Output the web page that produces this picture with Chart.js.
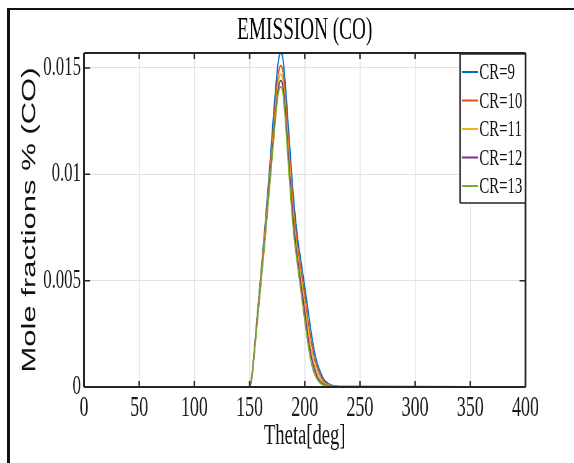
<!DOCTYPE html>
<html>
<head>
<meta charset="utf-8">
<title>EMISSION (CO)</title>
<script src="https://cdn.jsdelivr.net/npm/chart.js@4.4.1/dist/chart.umd.min.js"></script>
<style>
    html, body { margin: 0; padding: 0; background: #fff; overflow: hidden; }
    #frame {
        position: absolute; left: 7px; top: 8px; width: 580px; height: 470px;
        border-left: 3px solid #111; border-top: 2px solid #111;
    }
    /* the figure is laid out wide, then squeezed horizontally */
    #wrap {
        position: absolute; left: 0; top: 0; width: 926px; height: 463px;
        transform: scaleX(0.62); transform-origin: 0 0;
    }
</style>
</head>
<body>
<div id="frame"></div>
<div id="wrap"><canvas id="coChart" width="926" height="463"></canvas></div>
<script>
// crank angle (deg)
const thetaDeg = [0, 150, 152, 154, 156, 158, 160, 162, 164, 166, 168, 170, 172, 174, 176, 178, 180,
    182, 184, 186, 188, 190, 192, 194, 196, 198, 200, 203, 206, 209, 212, 215, 218, 222, 226, 232, 360];

// CO mole fraction for each compression ratio
const cr9 = [0, 0, 0.0005, 0.0016, 0.0028, 0.0040, 0.0052, 0.0064, 0.0076, 0.0089, 0.0102, 0.0116, 0.0130,
    0.0143, 0.0153, 0.0157, 0.0155, 0.0145, 0.0131, 0.0116, 0.0101, 0.0088, 0.0077, 0.0068, 0.0061, 0.0054,
    0.0047, 0.0036, 0.0025, 0.0016, 0.0010, 0.0006, 0.0003, 0.00013, 0.00005, 0.00001, 0];
const cr10 = [0, 0, 0.0005, 0.0015, 0.0027, 0.0039, 0.0051, 0.0062, 0.0074, 0.0086, 0.0099, 0.0112, 0.0125,
    0.0138, 0.0147, 0.0151, 0.0149, 0.0139, 0.0125, 0.0110, 0.0096, 0.0083, 0.0073, 0.0064, 0.0057, 0.0050,
    0.0043, 0.0031, 0.0021, 0.0013, 0.0008, 0.00045, 0.00022, 0.0001, 0.00004, 0.00001, 0];
const cr11 = [0, 0, 0.0005, 0.0015, 0.0026, 0.0038, 0.0050, 0.0061, 0.0072, 0.0084, 0.0097, 0.0109, 0.0121,
    0.0134, 0.0143, 0.0147, 0.0145, 0.0135, 0.0121, 0.0106, 0.0092, 0.0079, 0.0069, 0.0061, 0.0053, 0.0046,
    0.0039, 0.0027, 0.0017, 0.0010, 0.0006, 0.0003, 0.00015, 0.00007, 0.00003, 0.00001, 0];
const cr12 = [0, 0, 0.0004, 0.0014, 0.0026, 0.0037, 0.0048, 0.0059, 0.0070, 0.0082, 0.0095, 0.0107, 0.0119,
    0.0131, 0.0140, 0.0144, 0.0142, 0.0132, 0.0117, 0.0102, 0.0088, 0.0076, 0.0066, 0.0058, 0.0050, 0.0043,
    0.0035, 0.0023, 0.0014, 0.0008, 0.0004, 0.0002, 0.0001, 0.00005, 0.00002, 0, 0];
const cr13 = [0, 0, 0.0004, 0.0014, 0.0025, 0.0036, 0.0047, 0.0058, 0.0069, 0.0081, 0.0093, 0.0105, 0.0117,
    0.0129, 0.0138, 0.0141, 0.0139, 0.0128, 0.0113, 0.0098, 0.0084, 0.0072, 0.0063, 0.0055, 0.0047, 0.0039,
    0.0031, 0.0020, 0.0011, 0.0006, 0.0003, 0.00015, 0.00008, 0.00003, 0.00001, 0, 0];

const seriesNames = ["CR=9", "CR=10", "CR=11", "CR=12", "CR=13"];
const seriesColors = ["#0072BD", "#D95319", "#EDB120", "#7E2F8E", "#77AC30"];
const seriesValues = [cr9, cr10, cr11, cr12, cr13];

const xTicks = [0, 50, 100, 150, 200, 250, 300, 350, 400];
const yTicks = [0, 0.005, 0.01, 0.015];
const yTickLabels = ["0", "0.005", "0.01", "0.015"];

const SERIF = "'Liberation Serif', 'Times New Roman', serif";
const SANS = "'Liberation Sans', Arial, sans-serif";
const AXIS = "#262626";

// axes box, inward tick marks and the boxed legend in the upper right
const matlabAxes = {
    id: "matlabAxes",
    afterDatasetsDraw(chart) {
        const { ctx, chartArea: a, scales } = chart;
        ctx.save();
        ctx.strokeStyle = AXIS;

        ctx.lineWidth = 2.4;
        xTicks.forEach(v => {
            const px = scales.x.getPixelForValue(v);
            ctx.beginPath();
            ctx.moveTo(px, a.bottom); ctx.lineTo(px, a.bottom - 6);
            ctx.moveTo(px, a.top); ctx.lineTo(px, a.top + 6);
            ctx.stroke();
        });
        ctx.lineWidth = 1.5;
        yTicks.forEach(v => {
            const py = scales.y.getPixelForValue(v);
            ctx.beginPath();
            ctx.moveTo(a.left, py); ctx.lineTo(a.left + 9.7, py);
            ctx.moveTo(a.right, py); ctx.lineTo(a.right - 9.7, py);
            ctx.stroke();
        });

        ctx.lineWidth = 2;
        ctx.beginPath();
        ctx.moveTo(a.left, a.top); ctx.lineTo(a.right, a.top);
        ctx.moveTo(a.left, a.bottom); ctx.lineTo(a.right, a.bottom);
        ctx.stroke();
        ctx.lineWidth = 3;
        ctx.beginPath();
        ctx.moveTo(a.left, a.top); ctx.lineTo(a.left, a.bottom);
        ctx.moveTo(a.right, a.top); ctx.lineTo(a.right, a.bottom);
        ctx.stroke();

        // legend
        const lx = 742, ly = 54, lw = a.right - 742, lh = 149;
        ctx.fillStyle = "#fff";
        ctx.fillRect(lx, ly, lw, lh);
        ctx.lineWidth = 1.5;
        ctx.beginPath();
        ctx.moveTo(lx, ly); ctx.lineTo(lx + lw, ly);
        ctx.moveTo(lx, ly + lh); ctx.lineTo(lx + lw, ly + lh);
        ctx.stroke();
        ctx.lineWidth = 2.4;
        ctx.beginPath();
        ctx.moveTo(lx, ly); ctx.lineTo(lx, ly + lh);
        ctx.moveTo(lx + lw, ly); ctx.lineTo(lx + lw, ly + lh);
        ctx.stroke();

        ctx.font = "24px " + SERIF;
        ctx.textBaseline = "middle";
        ctx.textAlign = "left";
        chart.data.datasets.forEach((ds, i) => {
            const y = 72 + i * 28.5;
            ctx.strokeStyle = ds.borderColor;
            ctx.lineWidth = 2;
            ctx.beginPath();
            ctx.moveTo(745, y); ctx.lineTo(771, y);
            ctx.stroke();
            ctx.fillStyle = "#111";
            ctx.fillText(ds.label, 773, y + 1);
        });
        ctx.restore();
    }
};

new Chart(document.getElementById("coChart").getContext("2d"), {
    type: "line",
    data: {
        datasets: seriesNames.map((name, i) => ({
            label: name,
            data: thetaDeg.map((t, k) => ({ x: t, y: seriesValues[i][k] })),
            borderColor: seriesColors[i],
            borderWidth: 2,
            pointRadius: 0,
            fill: false,
            cubicInterpolationMode: "monotone",
            order: seriesNames.length - i
        }))
    },
    options: {
        responsive: false,
        animation: false,
        devicePixelRatio: 1,
        layout: { padding: { left: 0, right: 78.4, top: 0, bottom: 0 } },
        scales: {
            x: {
                type: "linear",
                min: 0,
                max: 400,
                afterBuildTicks: scale => { scale.ticks = xTicks.map(v => ({ value: v })); },
                afterFit: scale => { scale.height = 76; },
                ticks: {
                    color: "#1a1a1a",
                    padding: 4,
                    maxRotation: 0,
                    autoSkip: false,
                    font: { family: SERIF, size: 29 }
                },
                grid: { color: "#e2e2e2", lineWidth: 1.6, drawTicks: false },
                border: { display: false },
                title: {
                    display: true,
                    text: "Theta[deg]",
                    color: "#111",
                    font: { family: SERIF, size: 30 },
                    padding: { top: 0, bottom: 9 }
                }
            },
            y: {
                min: 0,
                max: 0.0157,
                afterBuildTicks: scale => { scale.ticks = yTicks.map(v => ({ value: v })); },
                afterFit: scale => { scale.width = 135.5; },
                ticks: {
                    color: "#1a1a1a",
                    padding: 5,
                    autoSkip: false,
                    font: { family: SERIF, size: 27 },
                    callback: v => yTickLabels[yTicks.indexOf(v)]
                },
                grid: { color: "#e2e2e2", lineWidth: 1, drawTicks: false },
                border: { display: false },
                title: {
                    display: true,
                    text: "Mole fractions % (CO)",
                    color: "#111",
                    font: { family: SANS, size: 31 },
                    padding: { top: 29.8, bottom: 0 }
                }
            }
        },
        plugins: {
            legend: { display: false },
            tooltip: { enabled: false },
            title: {
                display: true,
                text: "EMISSION (CO)",
                fullSize: false,
                color: "#000",
                font: { family: SERIF, size: 31, weight: "normal" },
                padding: { top: 12, bottom: 3.8 }
            }
        }
    },
    plugins: [matlabAxes]
});
</script>
</body>
</html>
